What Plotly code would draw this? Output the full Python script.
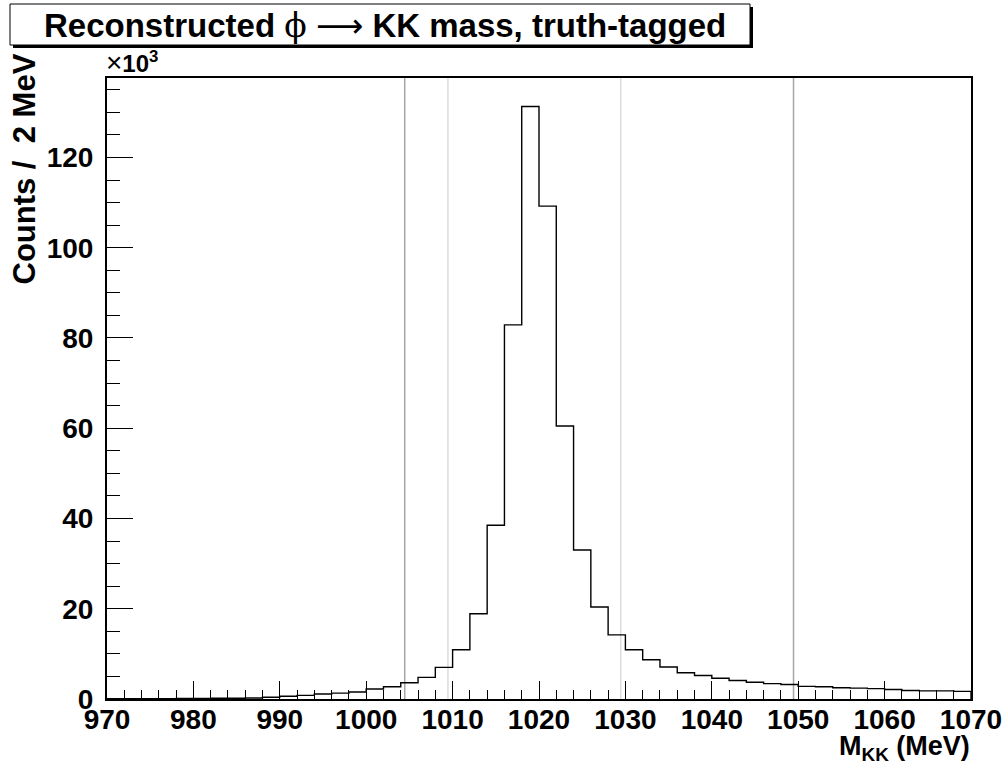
import plotly.graph_objects as go

# ---- data ----
bin_edges = [970 + 2 * i for i in range(51)]  # 2 MeV bins, 970-1070 MeV
counts_thousands = [
    0.05, 0.06, 0.07, 0.08, 0.10, 0.12, 0.15, 0.18, 0.22, 0.40,
    0.60, 0.80, 1.10, 1.30, 1.55, 2.20, 2.70, 3.60, 4.80, 7.00,
    10.9, 18.9, 38.5, 82.9, 131.3, 109.2, 60.5, 33.0, 20.4, 14.2,
    10.9, 8.7, 7.1, 5.8, 5.2, 4.6, 4.1, 3.7, 3.4, 3.2,
    2.8, 2.7, 2.5, 2.4, 2.3, 2.1, 1.9, 1.8, 1.8, 1.7,
]
outer_lines = [1004.46, 1049.46]
inner_lines = [1009.46, 1029.46]
x_ticks = [970, 980, 990, 1000, 1010, 1020, 1030, 1040, 1050, 1060, 1070]
y_ticks = [0, 20, 40, 60, 80, 100, 120]

# ---- figure geometry (pixels) ----
W, H = 1008, 766
L, R, T, B = 107, 971, 78, 699
pw, ph = R - L, B - T


def px(xp):
    return (xp - L) / pw


def py(yp):
    return (B - yp) / ph


# histogram outline (step)
xs = [bin_edges[0]] + bin_edges[:-1] + [bin_edges[-1], bin_edges[-1]]
ys = [0] + counts_thousands + [counts_thousands[-1], 0]

fig = go.Figure()
fig.add_trace(go.Scatter(x=xs, y=ys, mode="lines", line_shape="hv",
                         line=dict(color="black", width=1.4),
                         hoverinfo="skip", showlegend=False))

shapes = []
for v in outer_lines:
    shapes.append(dict(type="line", xref="x", yref="paper", x0=v, x1=v, y0=0, y1=1,
                       line=dict(color="#a6a6a6", width=1.5), layer="below"))
for v in inner_lines:
    shapes.append(dict(type="line", xref="x", yref="paper", x0=v, x1=v, y0=0, y1=1,
                       line=dict(color="#dcdcdc", width=1.5), layer="below"))
# title pave with shadow
shapes.append(dict(type="rect", xref="paper", yref="paper",
                   x0=px(13), x1=px(753), y0=py(48), y1=py(7),
                   fillcolor="black", line=dict(width=0), layer="above"))
shapes.append(dict(type="rect", xref="paper", yref="paper",
                   x0=px(10), x1=px(750), y0=py(45), y1=py(4),
                   fillcolor="white", line=dict(color="black", width=1), layer="above"))

font_fam = "Liberation Sans, Arial, Helvetica, sans-serif"
title_txt = ("<b>Reconstructed</b> "
             "<span style=\"font-family:'DejaVu Serif'\">ϕ</span> "
             "<span style=\"font-family:'DejaVu Sans'\">⟶</span> "
             "<b>KK mass, truth-tagged</b>")
annotations = [
    dict(text=title_txt,
         xref="paper", yref="paper", x=px(385), y=py(25), xanchor="center", yanchor="middle",
         showarrow=False, font=dict(family=font_fam, size=33, color="black")),
    dict(text="<span style=\"font-size:28px\">×</span><b>10<sup>3</sup></b>", xref="paper", yref="paper",
         x=px(104), y=py(80), xanchor="left", yanchor="bottom",
         showarrow=False, font=dict(family=font_fam, size=24, color="black")),
    dict(text="<b>Counts /  2 MeV</b>", xref="paper", yref="paper",
         x=px(24), y=py(52), xanchor="center", yanchor="top", textangle=-90,
         showarrow=False, font=dict(family=font_fam, size=31, color="black")),
    dict(text="<b>M<sub>KK</sub> (MeV)</b>", xref="paper", yref="paper",
         x=px(972), y=py(729), xanchor="right", yanchor="top",
         showarrow=False, font=dict(family=font_fam, size=27, color="black")),
]

fig.update_layout(
    width=W, height=H,
    margin=dict(l=L, r=W - R, t=T, b=H - B, pad=0, autoexpand=False),
    paper_bgcolor="white", plot_bgcolor="white",
    shapes=shapes, annotations=annotations,
    showlegend=False,
    xaxis=dict(range=[970, 1070], tickmode="array", tickvals=x_ticks,
               ticktext=[str(t) for t in x_ticks], automargin=False,
               ticks="inside", ticklen=18, tickwidth=1.3, tickcolor="black",
               minor=dict(dtick=2, tick0=970, ticks="inside", ticklen=9, tickwidth=1.3, tickcolor="black"),
               showgrid=False, zeroline=False, showline=True, linecolor="black", linewidth=2,
               mirror=True, ticklabelstandoff=-6,
               tickfont=dict(family=font_fam, size=28, color="black", weight="bold")),
    yaxis=dict(range=[0, 137.6], tickmode="array", tickvals=y_ticks,
               ticktext=[str(t) for t in y_ticks], automargin=False,
               ticks="inside", ticklen=26, tickwidth=1.3, tickcolor="black",
               minor=dict(dtick=5, tick0=0, ticks="inside", ticklen=13, tickwidth=1.3, tickcolor="black"),
               showgrid=False, zeroline=False, showline=True, linecolor="black", linewidth=2,
               mirror=True, ticklabelstandoff=6,
               tickfont=dict(family=font_fam, size=28, color="black", weight="bold")),
)

fig.write_html("out.html")
